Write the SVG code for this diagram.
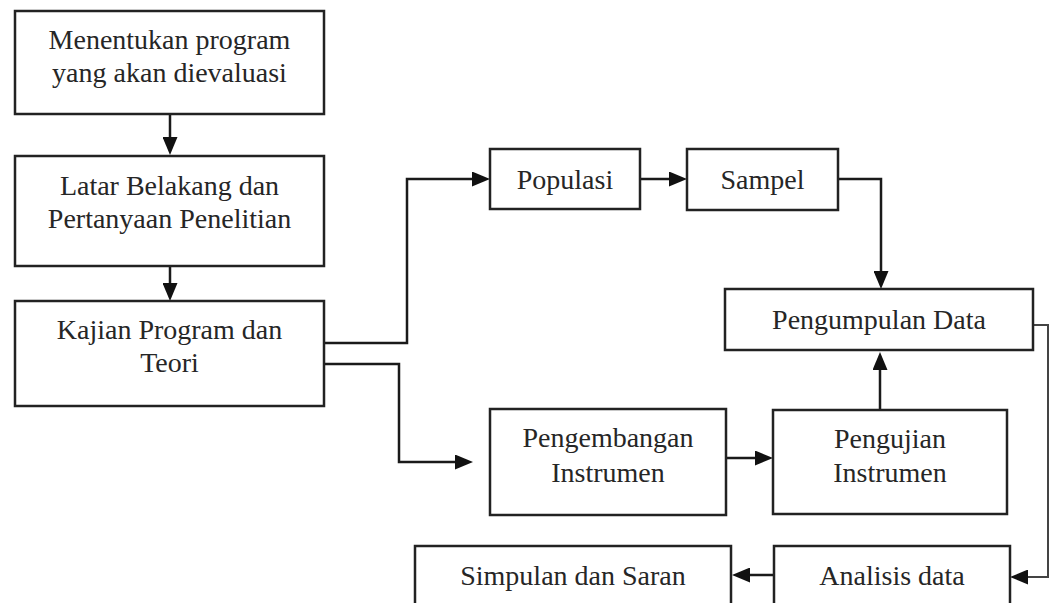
<svg xmlns="http://www.w3.org/2000/svg" width="1051" height="603" viewBox="0 0 1051 603">
<style>
.box{fill:#fff;stroke:#222;stroke-width:2.5}
.t{font-family:"Liberation Serif","Times New Roman",serif;font-size:28px;fill:#262626;text-anchor:middle}
.c{fill:none;stroke:#1a1a1a;stroke-width:2.5;marker-end:url(#ah)}
.thin{stroke:#444;stroke-width:2}
</style>
<defs>
<marker id="ah" viewBox="0 0 18 15" refX="9" refY="7.5" markerWidth="18" markerHeight="15" markerUnits="userSpaceOnUse" orient="auto">
<path d="M0,0 L18,7.5 L0,15 z" fill="#111"/>
</marker>
</defs>
<rect width="1051" height="603" fill="#fff"/>
<g id="connectors">
<path class="c" d="M170,114 V146"/>
<path class="c" d="M170,266 V292"/>
<path class="c" d="M324,343 H407 V179 H481"/>
<path class="c" d="M324,364 H399 V462 H464"/>
<path class="c" d="M640,179 H678"/>
<path class="c" d="M838,179 H881 V280"/>
<path class="c" d="M880,410 V361"/>
<path class="c" d="M726,458 H764"/>
<path class="c thin" d="M1033,325 H1048 V577 H1019"/>
<path class="c" d="M774,575 H741"/>
</g>
<g id="n1"><rect class="box" x="15" y="11" width="309" height="103"/>
<text class="t" x="169.5" y="49">Menentukan program</text><text class="t" x="169.5" y="82">yang akan dievaluasi</text></g>
<g id="n2"><rect class="box" x="15" y="156" width="309" height="110"/>
<text class="t" x="169.5" y="195">Latar Belakang dan</text><text class="t" x="169.5" y="228">Pertanyaan Penelitian</text></g>
<g id="n3"><rect class="box" x="15" y="301" width="309" height="105"/>
<text class="t" x="169.5" y="339">Kajian Program dan</text><text class="t" x="169.5" y="372">Teori</text></g>
<g id="n4"><rect class="box" x="490" y="149" width="150" height="60"/>
<text class="t" x="565" y="189">Populasi</text></g>
<g id="n5"><rect class="box" x="687" y="149" width="151" height="61"/>
<text class="t" x="762.5" y="189">Sampel</text></g>
<g id="n6"><rect class="box" x="725" y="289" width="308" height="61"/>
<text class="t" x="879" y="329">Pengumpulan Data</text></g>
<g id="n7"><rect class="box" x="490" y="409" width="236" height="106"/>
<text class="t" x="608" y="447">Pengembangan</text><text class="t" x="608" y="482">Instrumen</text></g>
<g id="n8"><rect class="box" x="773" y="410" width="234" height="104"/>
<text class="t" x="890" y="448">Pengujian</text><text class="t" x="890" y="482">Instrumen</text></g>
<g id="n9"><rect class="box" x="415" y="546" width="316" height="70"/>
<text class="t" x="573" y="585">Simpulan dan Saran</text></g>
<g id="n10"><rect class="box" x="774" y="546" width="236" height="70"/>
<text class="t" x="892" y="585">Analisis data</text></g>
</svg>
